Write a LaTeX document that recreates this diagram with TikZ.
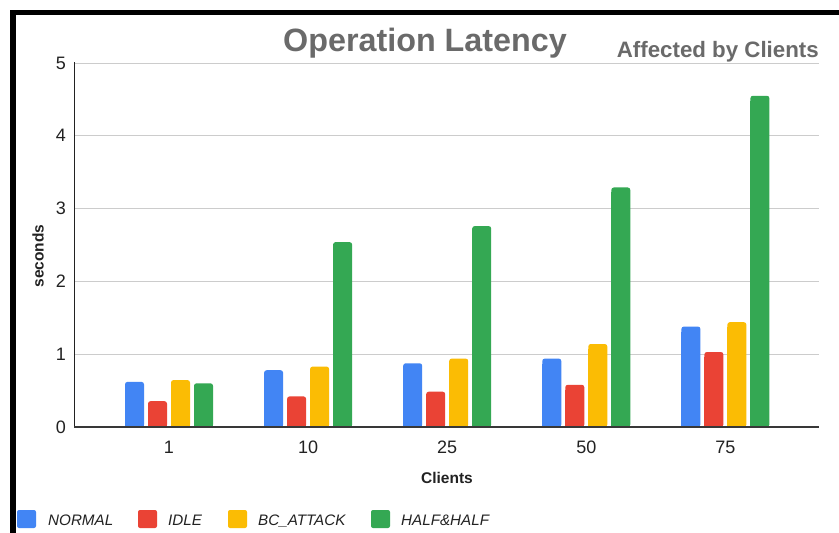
\documentclass[tikz,border=0pt]{standalone}
\usepackage{fontspec}
\setmainfont{Liberation Sans}
\definecolor{cblue}{HTML}{4285F4}
\definecolor{cred}{HTML}{EA4335}
\definecolor{cyellow}{HTML}{FBBC04}
\definecolor{cgreen}{HTML}{34A853}
\definecolor{gridc}{HTML}{CCCCCC}
\definecolor{titlec}{HTML}{6A6A6A}
\definecolor{labc}{HTML}{222222}
\tikzset{
  ticklab/.style={inner sep=0pt, text=labc, font=\fontsize{18}{20}\selectfont},
  axlab/.style={inner sep=0pt, text=labc, font=\bfseries\fontsize{15.5}{18}\selectfont},
  legtext/.style={inner sep=0pt, anchor=base west, text=labc, font=\itshape\fontsize{15.2}{18}\selectfont},
  legbox/.style={rounded corners=2pt},
  gridline/.style={draw=gridc, line width=0.9pt},
}
\newcommand{\drawbar}[3]{% left x, value, colour
  \pgfmathsetmacro{\bt}{427-72.8*#2}
  \fill[#3, rounded corners=2.5pt] (#1,427) rectangle ({#1+19},\bt);
  \fill[#3] (#1,427) rectangle ({#1+19},{min(\bt+5,427)});
}
\begin{document}
\begin{tikzpicture}[x=1pt,y=-1pt]
\useasboundingbox (0,0) rectangle (839,533);
\fill[white] (0,0) rectangle (839,533);
% frame
\draw[black, line width=5pt] (10,12.5) -- (839,12.5);
\draw[black, line width=6pt] (13,10) -- (13,533);
% grid
\foreach \k in {1,...,5}{
  \draw[gridline] (74,{427-72.8*\k}) -- (819,{427-72.8*\k});
}
\foreach \k in {0,...,5}{
  \node[ticklab, anchor=east] (ytick\k) at (66,{427-72.8*\k}) {\k};
}
% bars
\foreach \c/\a/\b/\y/\g [count=\i from 0] in {1/0.62/0.355/0.645/0.60, 10/0.78/0.42/0.83/2.54, 25/0.875/0.485/0.94/2.76, 50/0.94/0.58/1.14/3.29, 75/1.38/1.03/1.44/4.55}{
  \pgfmathsetmacro{\cx}{169+139.1*\i}
  \drawbar{\cx-44}{\a}{cblue}
  \drawbar{\cx-21}{\b}{cred}
  \drawbar{\cx+2}{\y}{cyellow}
  \drawbar{\cx+25}{\g}{cgreen}
  \node[ticklab, anchor=base] (xtick\i) at (\cx,453) {\c};
}
% axes
\draw[labc, line width=0.8pt] (74,62) -- (74,427);
\draw[labc!90, line width=1.6pt] (74,427) -- (819,427);
% titles
\node[inner sep=0pt, anchor=base, text=titlec, font=\bfseries\fontsize{32.3}{34}\selectfont] (title) at (425,51) {Operation Latency};
\node[inner sep=0pt, anchor=base east, text=titlec, font=\bfseries\fontsize{22.3}{24}\selectfont] (subtitle) at (819,57) {Affected by Clients};
\node[axlab, anchor=base] (xlabel) at (447,483) {Clients};
\node[axlab, rotate=90, anchor=center] (ylabel) at (38,256) {seconds};
% legend
\fill[cblue, legbox] (17,510) rectangle (36,528);
\node[legtext] (lnormal) at (48,525) {NORMAL};
\fill[cred, legbox] (138,510) rectangle (157,528);
\node[legtext] (lidle) at (168,525) {IDLE};
\fill[cyellow, legbox] (228,510) rectangle (247,528);
\node[legtext] (lbc) at (258,525) {BC\_ATTACK};
\fill[cgreen, legbox] (371,510) rectangle (390,528);
\node[legtext] (lhalf) at (401,525) {HALF\&HALF};
\end{tikzpicture}
\end{document}
